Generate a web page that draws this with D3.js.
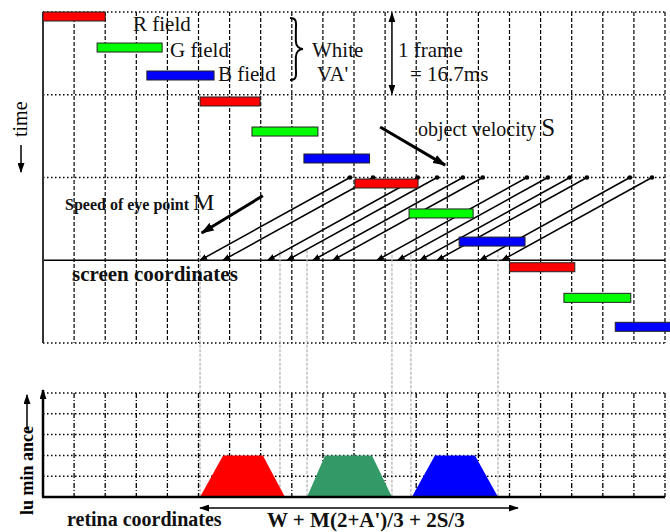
<!DOCTYPE html>
<html>
<head>
<meta charset="utf-8">
<script src="https://cdn.jsdelivr.net/npm/d3@7"></script>
<style>
  body { margin: 0; background: #fff; }
  svg { display: block; font-family: "Liberation Serif", "Times New Roman", serif; }
</style>
</head>
<body>
<div id="chart"></div>
<script>
// grid: 20 screen columns, 4 frames of time
var gridColumns = d3.range(0, 21);
var frameLines = [0, 1, 2, 4];
var screenFrame = 3;

// colour fields (column start / end, time in frames)
var fieldColor = ['#ff0000', '#00ff00', '#0000ff', '#ff0000', '#00ff00', '#0000ff',
                  '#ff0000', '#00ff00', '#0000ff', '#ff0000', '#00ff00', '#0000ff'];
var fieldStart = [0, 1.74, 3.34, 5.05, 6.72, 8.39, 10.03, 11.77, 13.38, 15.0, 16.75, 18.4];
var fieldEnd   = [2.0, 3.83, 5.5, 6.98, 8.84, 10.5, 12.06, 13.83, 15.5, 17.1, 18.9, 20.6];
var fieldTime  = [0, 0.375, 0.713, 1.027, 1.39, 1.716, 2.018, 2.38, 2.72, 3.03, 3.40, 3.75];

// eye tracking lines (column where they hit the screen line) and eye speed (columns / frame)
var eyeLineStart = [5.05, 5.79, 7.23, 7.85, 8.68, 9.32, 10.74, 11.41, 12.12, 12.67, 14.05, 14.76];
var eyeSpeed = 4.82;

// projected guides and retina luminance
var guideCols = [5.05, 7.62, 8.49, 11.22, 11.83, 14.63];
var lumLevels = [0, 1, 2, 3, 4, 5];
var retinaColor = ['#ff0000', '#339966', '#0000ff'];
var retinaBottomL = [5.05, 8.49, 11.86];
var retinaTopL    = [5.79, 9.07, 12.6];
var retinaTopR    = [7.07, 10.58, 13.89];
var retinaBottomR = [7.78, 11.22, 14.63];
var retinaLevel = 2;
var retinaArrow = [5.05, 15.27];

var width = 670, height = 532;

var svg = d3.select('#chart').append('svg')
    .attr('width', width)
    .attr('height', height);

var x = d3.scaleLinear().domain([0, 20]).range([43, 665]);
var t = d3.scaleLinear().domain([0, 4]).range([12, 343]);
var lum = d3.scaleLinear().domain([0, 5]).range([497, 393]);

// markers
var defs = svg.append('defs');
function marker(id, w, h) {
    defs.append('marker')
        .attr('id', id)
        .attr('markerUnits', 'userSpaceOnUse')
        .attr('viewBox', '0 ' + (-h) + ' ' + w + ' ' + (2 * h))
        .attr('refX', w - 1).attr('refY', 0)
        .attr('markerWidth', w).attr('markerHeight', 2 * h)
        .attr('orient', 'auto-start-reverse')
        .append('path')
        .attr('d', 'M0,' + (-h) + 'L' + w + ',0L0,' + h + 'Z')
        .attr('fill', '#000');
}
marker('headSmall', 8, 3);
marker('headBig', 13, 4.5);
marker('headThin', 10, 3.5);

// ---------- upper grid ----------
var upper = svg.append('g');

upper.selectAll('line.v')
    .data(gridColumns.slice(1))
    .enter().append('line')
    .attr('x1', function(d) { return x(d); })
    .attr('x2', function(d) { return x(d); })
    .attr('y1', t(0)).attr('y2', t(4))
    .attr('stroke', '#000').attr('stroke-width', 1.2)
    .attr('stroke-dasharray', '4,2');

upper.selectAll('line.h')
    .data(frameLines)
    .enter().append('line')
    .attr('x1', x(0)).attr('x2', x(20))
    .attr('y1', function(d) { return t(d); })
    .attr('y2', function(d) { return t(d); })
    .attr('stroke', '#000').attr('stroke-width', 1.5)
    .attr('stroke-dasharray', '1.5,2.5');

upper.append('line')
    .attr('x1', x(0)).attr('x2', x(20))
    .attr('y1', t(screenFrame)).attr('y2', t(screenFrame))
    .attr('stroke', '#000').attr('stroke-width', 1.5);

upper.append('line')
    .attr('x1', x(0)).attr('x2', x(0))
    .attr('y1', t(0)).attr('y2', t(4))
    .attr('stroke', '#333').attr('stroke-width', 2);

// gray guides down to retina
svg.append('g').selectAll('line')
    .data(guideCols)
    .enter().append('line')
    .attr('x1', function(d) { return x(d); })
    .attr('x2', function(d) { return x(d); })
    .attr('y1', t(screenFrame) - 10).attr('y2', lum(0))
    .attr('stroke', '#b5b5b5').attr('stroke-width', 1.3)
    .attr('stroke-dasharray', '3,1.5');

// eye tracking lines
var eye = svg.append('g');
eye.selectAll('line')
    .data(eyeLineStart)
    .enter().append('line')
    .attr('x1', function(d) { return x(d + eyeSpeed); })
    .attr('y1', t(screenFrame - 1))
    .attr('x2', function(d) { return x(d); })
    .attr('y2', t(screenFrame))
    .attr('stroke', '#000').attr('stroke-width', 1.5)
    .attr('marker-end', 'url(#headSmall)');
eye.selectAll('circle')
    .data(eyeLineStart)
    .enter().append('circle')
    .attr('cx', function(d) { return x(d + eyeSpeed); })
    .attr('cy', t(screenFrame - 1))
    .attr('r', 2.3)
    .attr('fill', '#000');

// colour field bars
svg.append('g').selectAll('rect')
    .data(fieldStart)
    .enter().append('rect')
    .attr('x', function(d) { return x(d); })
    .attr('y', function(d, i) { return t(fieldTime[i]); })
    .attr('width', function(d, i) { return x(fieldEnd[i]) - x(d); })
    .attr('height', 9)
    .attr('fill', function(d, i) { return fieldColor[i]; })
    .attr('stroke', '#222').attr('stroke-width', 1);

// velocity arrows
svg.append('line')
    .attr('x1', x(10.84)).attr('y1', t(1.39))
    .attr('x2', x(12.93)).attr('y2', t(1.85))
    .attr('stroke', '#000').attr('stroke-width', 3)
    .attr('marker-end', 'url(#headBig)');
svg.append('line')
    .attr('x1', x(7.07)).attr('y1', t(2.22))
    .attr('x2', x(5.1)).attr('y2', t(2.67))
    .attr('stroke', '#000').attr('stroke-width', 3)
    .attr('marker-end', 'url(#headBig)');

// 1 frame double arrow
svg.append('line')
    .attr('x1', x(11.22)).attr('x2', x(11.22))
    .attr('y1', t(0) + 1).attr('y2', t(1) - 1)
    .attr('stroke', '#000').attr('stroke-width', 1.5)
    .attr('marker-start', 'url(#headThin)')
    .attr('marker-end', 'url(#headThin)');

// brace
var bx = 290, by0 = 18, by1 = 80, bw = 13, bm = (by0 + by1) / 2;
svg.append('path')
    .attr('d', 'M' + bx + ',' + by0 +
        'C' + (bx + bw * 0.6) + ',' + by0 + ' ' + (bx + bw * 0.45) + ',' + (by0 + 6) + ' ' + (bx + bw * 0.45) + ',' + (by0 + 13) +
        'L' + (bx + bw * 0.45) + ',' + (bm - 8) +
        'C' + (bx + bw * 0.45) + ',' + (bm - 3) + ' ' + (bx + bw * 0.7) + ',' + bm + ' ' + (bx + bw) + ',' + bm +
        'C' + (bx + bw * 0.7) + ',' + bm + ' ' + (bx + bw * 0.45) + ',' + (bm + 3) + ' ' + (bx + bw * 0.45) + ',' + (bm + 8) +
        'L' + (bx + bw * 0.45) + ',' + (by1 - 13) +
        'C' + (bx + bw * 0.45) + ',' + (by1 - 6) + ' ' + (bx + bw * 0.6) + ',' + by1 + ' ' + bx + ',' + by1)
    .attr('fill', 'none').attr('stroke', '#000').attr('stroke-width', 2);

// ---------- lower (retina) grid ----------
var lower = svg.append('g');
lower.selectAll('line.v')
    .data(gridColumns.slice(1))
    .enter().append('line')
    .attr('x1', function(d) { return x(d); })
    .attr('x2', function(d) { return x(d); })
    .attr('y1', lum(5)).attr('y2', lum(0))
    .attr('stroke', '#000').attr('stroke-width', 1.3)
    .attr('stroke-dasharray', '5,2,1,2');
lower.selectAll('line.h')
    .data(lumLevels.slice(1))
    .enter().append('line')
    .attr('x1', x(0)).attr('x2', x(20))
    .attr('y1', function(d) { return lum(d); })
    .attr('y2', function(d) { return lum(d); })
    .attr('stroke', '#000').attr('stroke-width', 1.5)
    .attr('stroke-dasharray', '1.5,2.5');

// luminance trapezoids
lower.selectAll('path.trap')
    .data(retinaColor)
    .enter().append('path')
    .attr('d', function(d, i) {
        return 'M' + x(retinaBottomL[i]) + ',' + lum(0) +
            'L' + x(retinaTopL[i]) + ',' + lum(retinaLevel) +
            'L' + x(retinaTopR[i]) + ',' + lum(retinaLevel) +
            'L' + x(retinaBottomR[i]) + ',' + lum(0) + 'Z';
    })
    .attr('fill', function(d) { return d; });

lower.append('line')
    .attr('x1', x(0) - 1).attr('x2', x(20))
    .attr('y1', lum(0)).attr('y2', lum(0))
    .attr('stroke', '#000').attr('stroke-width', 2.5);
lower.append('line')
    .attr('x1', x(0)).attr('x2', x(0))
    .attr('y1', lum(0)).attr('y2', lum(5) - 3)
    .attr('stroke', '#000').attr('stroke-width', 2.5)
    .attr('marker-end', 'url(#headThin)');

// retina coordinates arrow
lower.append('line')
    .attr('x1', x(retinaArrow[0])).attr('x2', x(retinaArrow[1]))
    .attr('y1', 508).attr('y2', 508)
    .attr('stroke', '#000').attr('stroke-width', 1.5)
    .attr('marker-start', 'url(#headThin)')
    .attr('marker-end', 'url(#headThin)');

// ---------- labels ----------
function label(txt, px, py, size, weight) {
    return svg.append('text')
        .attr('x', px).attr('y', py)
        .attr('font-size', size)
        .attr('font-weight', weight || 'normal')
        .attr('fill', '#111')
        .text(txt);
}
label('R field', 133, 31, 21);
label('G field', 170, 57, 21);
label('B field', 218, 81, 21);
label('White', 312, 57, 21);
label('VA\'', 317, 81, 21);
label('1 frame', 398, 57, 21);
label('= 16.7ms', 410, 81, 21);

var ov = label('object velocity ', 418, 136, 20);
ov.append('tspan').attr('font-size', 25).text('S');

var sp = label('Speed of eye point ', 65, 210, 16, 'bold');
sp.append('tspan').attr('font-size', 24).attr('font-weight', 'normal').text('M');

label('screen coordinates', 72, 281, 21, 'bold');
label('retina coordinates', 67, 526, 20, 'bold');
label('W + M(2+A\')/3 + 2S/3', 267, 527, 21, 'bold');

// time label
svg.append('text')
    .attr('transform', 'translate(27,137) rotate(-90)')
    .attr('font-size', 20)
    .text('time');
svg.append('line')
    .attr('x1', 21).attr('x2', 21)
    .attr('y1', 145).attr('y2', 172)
    .attr('stroke', '#000').attr('stroke-width', 1.5)
    .attr('marker-end', 'url(#headThin)');

// luminance label
svg.append('text')
    .attr('transform', 'translate(33,515) rotate(-90)')
    .attr('font-size', 18)
    .attr('font-weight', 'bold')
    .text('lu min ance');
svg.append('line')
    .attr('x1', 27).attr('x2', 27)
    .attr('y1', 430).attr('y2', 395)
    .attr('stroke', '#000').attr('stroke-width', 1.5)
    .attr('marker-end', 'url(#headThin)');
</script>
</body>
</html>
